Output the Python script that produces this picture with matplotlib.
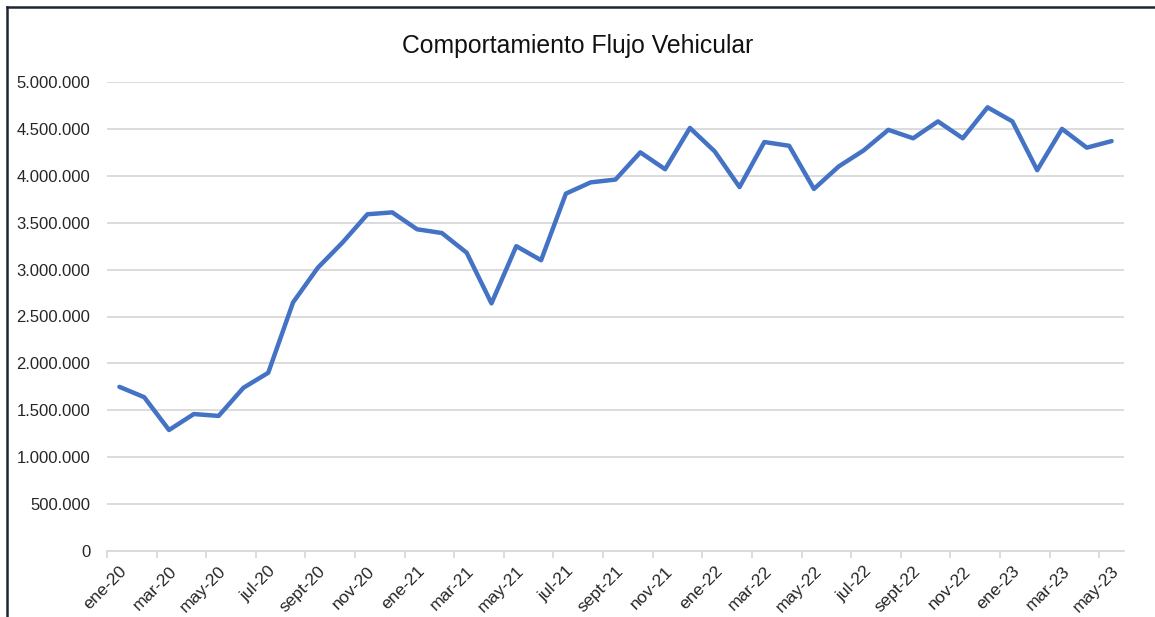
import matplotlib.pyplot as plt
from matplotlib.ticker import FuncFormatter, FixedLocator

plt.rcParams['font.family'] = ['Liberation Sans', 'DejaVu Sans']

# monthly labels ene-20 .. may-23
meses = ["ene", "feb", "mar", "abr", "may", "jun", "jul", "ago", "sept", "oct", "nov", "dic"]
labels = []
for yy in [20, 21, 22, 23]:
    for m in meses:
        labels.append(f"{m}-{yy}")
labels = labels[:41]

flujo = [
    1750000, 1640000, 1290000, 1460000, 1440000, 1740000, 1900000, 2650000,
    3020000, 3290000, 3590000, 3610000, 3430000, 3390000, 3180000, 2640000,
    3250000, 3100000, 3810000, 3930000, 3960000, 4250000, 4070000, 4510000,
    4260000, 3880000, 4360000, 4320000, 3860000, 4100000, 4270000, 4490000,
    4400000, 4580000, 4400000, 4730000, 4580000, 4060000, 4500000, 4300000,
    4370000,
]

fig = plt.figure(figsize=(11.55, 6.17), dpi=100)
ax = fig.add_axes([107 / 1155, 1 - 551 / 617, (1124 - 107) / 1155, (551 - 82) / 617])

x = list(range(len(flujo)))
ax.plot(x, flujo, color="#4472C4", lw=3.2, solid_joinstyle="round", solid_capstyle="round", zorder=3)

ax.set_xlim(-0.5, len(flujo) - 0.5)
ax.set_ylim(0, 5000000)
ax.set_yticks(range(0, 5000001, 500000))
ax.yaxis.set_major_formatter(FuncFormatter(lambda v, p: f"{int(v):,}".replace(",", ".")))
ax.grid(axis="y", color="#d9d9d9", lw=1.3)
ax.set_axisbelow(True)

# category ticks between categories, labels on every other category
ax.xaxis.set_major_locator(FixedLocator([i - 0.5 for i in range(0, len(flujo), 2)]))
ax.set_xticklabels([])
ax.xaxis.set_minor_locator(FixedLocator(list(range(0, len(flujo), 2))))
ax.set_xticklabels(labels[::2], minor=True, rotation=45, ha="right", va="top",
                   rotation_mode="anchor", fontsize=12.5, color="#262626")
ax.tick_params(axis="x", which="major", length=5, color="#d9d9d9", width=1.3)
ax.tick_params(axis="x", which="minor", length=0, pad=9)
ax.tick_params(axis="y", length=0, pad=12, labelsize=12, labelcolor="#262626")

for s in ["top", "right", "left"]:
    ax.spines[s].set_visible(False)
ax.spines["bottom"].set_color("#d9d9d9")
ax.spines["bottom"].set_linewidth(1.3)

fig.text(578 / 1155, 1 - 46 / 617, "Comportamiento Flujo Vehicular", ha="center",
         va="center", fontsize=17.8, color="#111111")

# outer frame lines (left and top)
fig.add_artist(plt.Line2D([7 / 1155, 7 / 1155], [0, 1 - 7 / 617], color="#1f2533", lw=1.8,
                          transform=fig.transFigure))
fig.add_artist(plt.Line2D([7 / 1155, 1], [1 - 7 / 617, 1 - 7 / 617], color="#1f2533", lw=1.8,
                          transform=fig.transFigure))

fig.savefig("out.png", dpi=100)
